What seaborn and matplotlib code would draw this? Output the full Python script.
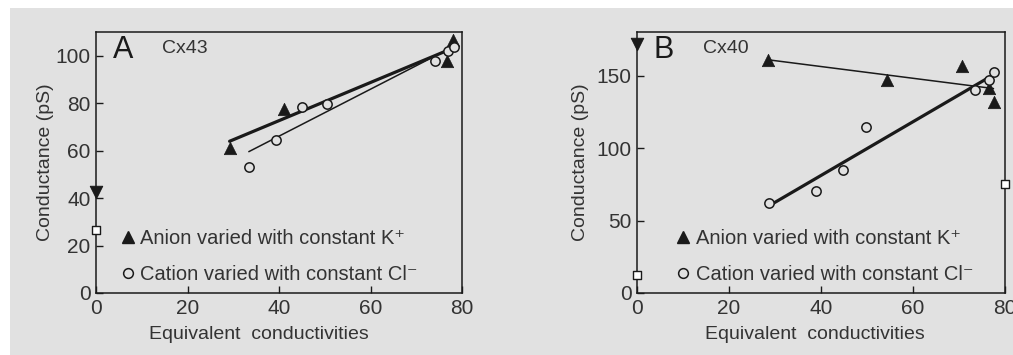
import numpy as np
import pandas as pd
import matplotlib
matplotlib.use("Agg")
import matplotlib.pyplot as plt
import seaborn as sns
from matplotlib.patches import Rectangle
from matplotlib.lines import Line2D

sns.set_style("ticks")
plt.rcParams["font.family"] = ["Liberation Sans", "DejaVu Sans"]

# ---- datos ----
# Panel A (Cx43)
a_anion_x = [29.2, 41.0, 76.7, 78.1]
a_anion_y = [61.0, 77.5, 97.6, 106.7]
a_cation_x = [33.4, 39.3, 45.0, 50.4, 74.1, 77.0, 78.3]
a_cation_y = [52.9, 64.6, 78.6, 79.6, 97.6, 102.2, 103.5]
a_down_y = [42.5]      # triángulo invertido sobre el eje
a_square_y = [26.5]    # cuadrado abierto sobre el eje

# Panel B (Cx40)
b_anion_x = [28.5, 54.4, 70.6, 76.5, 77.5]
b_anion_y = [160.6, 147.0, 156.7, 141.7, 131.4]
b_cation_x = [28.8, 38.9, 44.7, 49.8, 73.5, 76.5, 77.7]
b_cation_y = [62.2, 70.2, 85.1, 114.2, 140.2, 147.0, 152.1]
b_down_y = [171.5]
b_square_left_y = [12.2]
b_square_right_y = [75.3]

leg_anion = "Anion varied with constant K\u207a"
leg_cation = "Cation varied with constant Cl\u207b"

ink = "#1a1a1a"
txt = "#333333"
bg = "#e1e1e1"

fig = plt.figure(figsize=(10.13, 3.55), dpi=100)
fig.patch.set_facecolor("white")
fig.patches.append(Rectangle((10 / 1013, 0), 1 - 10 / 1013, 1 - 8 / 355,
                             transform=fig.transFigure, facecolor=bg,
                             edgecolor="none", zorder=-10))

axA = fig.add_axes([96 / 1013, 62 / 355, 366 / 1013, 261 / 355])
axB = fig.add_axes([637 / 1013, 62 / 355, 368 / 1013, 261 / 355])


def panel(ax, ax_x, ax_y, ca_x, ca_y, anion_lw, cation_lw, letter, name,
          ylim, yticks, xlab_pos, ylab_pad, leg_x):
    ax.set_facecolor(bg)
    sns.regplot(x=ax_x, y=ax_y, ax=ax, scatter=False, ci=None, truncate=True,
                line_kws=dict(color=ink, lw=anion_lw, zorder=2))
    sns.regplot(x=ca_x, y=ca_y, ax=ax, scatter=False, ci=None, truncate=True,
                line_kws=dict(color=ink, lw=cation_lw, zorder=2))
    sns.scatterplot(x=ax_x, y=ax_y, ax=ax, marker="^", s=80, color=ink,
                    edgecolor=ink, linewidth=0.5, zorder=3, clip_on=False)
    sns.scatterplot(x=ca_x, y=ca_y, ax=ax, marker="o", s=45, facecolor=bg,
                    edgecolor=ink, linewidth=1.1, zorder=4, clip_on=False)
    ax.set_xlim(0, 80)
    ax.set_ylim(*ylim)
    ax.set_xticks([0, 20, 40, 60, 80])
    ax.set_yticks(yticks)
    ax.tick_params(direction="in", length=5, width=1, colors=ink,
                   labelcolor=txt, labelsize=15, pad=4)
    for s in ax.spines.values():
        s.set_color(ink)
        s.set_linewidth(1.1)
    ax.set_xlabel("Equivalent  conductivities", fontsize=14, color=txt,
                  labelpad=3)
    ax.xaxis.set_label_coords(xlab_pos, -0.125)
    ax.set_ylabel("Conductance (pS)", fontsize=14, color=txt,
                  labelpad=ylab_pad)
    ax.text(0.045, 0.93, letter, transform=ax.transAxes, fontsize=22,
            color=ink, va="center", ha="left")
    ax.text(0.18, 0.935, name, transform=ax.transAxes, fontsize=14,
            color=txt, va="center", ha="left")
    handles = [
        Line2D([], [], ls="none", marker="^", ms=9, color=ink),
        Line2D([], [], ls="none", marker="o", ms=7, mfc="none", mec=ink,
               mew=1.1),
    ]
    ax.legend(handles, [leg_anion, leg_cation], loc="lower left",
              bbox_to_anchor=(leg_x, 0.004), frameon=False, fontsize=14.5,
              handlelength=0.6, handletextpad=0.3, labelspacing=0.85,
              labelcolor=txt, borderaxespad=0)


panel(axA, a_anion_x, a_anion_y, a_cation_x, a_cation_y, 2.3, 1.1, "A",
      "Cx43", (0, 110), [0, 20, 40, 60, 80, 100], 0.445, 1, 0.05)
panel(axB, b_anion_x, b_anion_y, b_cation_x, b_cation_y, 1.1, 2.3, "B",
      "Cx40", (0, 180), [0, 50, 100, 150], 0.484, 5, 0.088)

# marcadores sobre los ejes
sns.scatterplot(x=[0] * len(a_down_y), y=a_down_y, ax=axA, marker="v", s=80,
                color=ink, edgecolor=ink, zorder=5, clip_on=False)
sns.scatterplot(x=[0] * len(a_square_y), y=a_square_y, ax=axA, marker="s",
                s=40, facecolor="white", edgecolor=ink, linewidth=1,
                zorder=5, clip_on=False)
sns.scatterplot(x=[0] * len(b_down_y), y=b_down_y, ax=axB, marker="v", s=80,
                color=ink, edgecolor=ink, zorder=5, clip_on=False)
sns.scatterplot(x=[0] * len(b_square_left_y), y=b_square_left_y, ax=axB,
                marker="s", s=40, facecolor="white", edgecolor=ink,
                linewidth=1, zorder=5, clip_on=False)
sns.scatterplot(x=[80] * len(b_square_right_y), y=b_square_right_y, ax=axB,
                marker="s", s=40, facecolor="white", edgecolor=ink,
                linewidth=1, zorder=5, clip_on=False)

fig.savefig("out.png", dpi=100, facecolor=fig.get_facecolor())
